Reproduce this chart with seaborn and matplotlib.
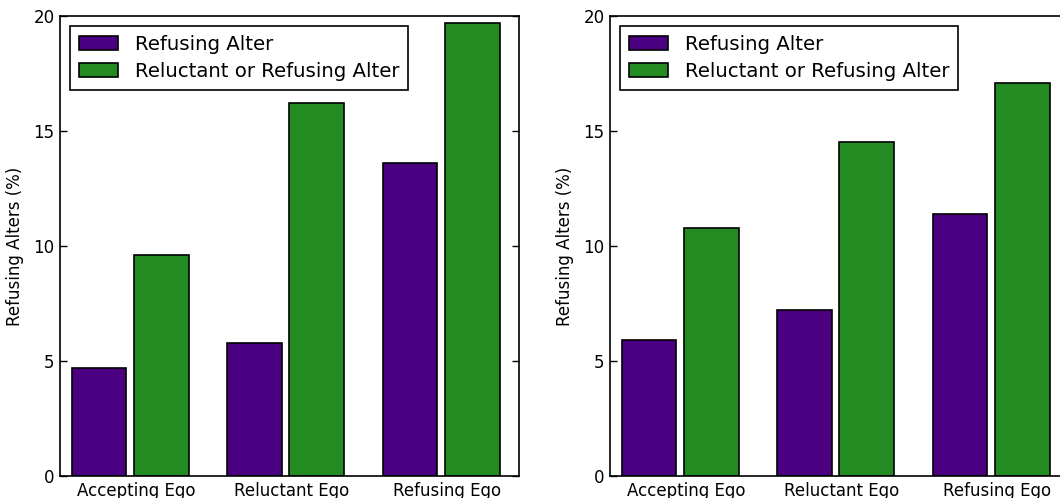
import numpy as np
import pandas as pd
import seaborn as sns
from matplotlib import pyplot as plt

sns.set_style("white")
plt.rcParams['font.family'] = ['DejaVu Sans']
plt.rcParams['text.color'] = 'black'
plt.rcParams['axes.labelcolor'] = 'black'
plt.rcParams['xtick.color'] = 'black'
plt.rcParams['ytick.color'] = 'black'

# data
ego_groups = ['Accepting Ego', 'Reluctant Ego', 'Refusing Ego']
series = ['Refusing Alter', 'Reluctant or Refusing Alter']
left_refusing = [4.7, 5.8, 13.6]
left_reluct_or_ref = [9.6, 16.2, 19.7]
right_refusing = [5.9, 7.2, 11.4]
right_reluct_or_ref = [10.8, 14.5, 17.1]

colors = ['#4B0082', '#228B22']


def make_df(refusing, reluct):
    return pd.DataFrame({
        'ego': ego_groups * 2,
        'alter': [series[0]] * 3 + [series[1]] * 3,
        'pct': list(refusing) + list(reluct),
    })


fig = plt.figure(figsize=(10.6, 4.98), dpi=100)
W, H = 1060, 498
ax1 = fig.add_axes([60 / W, 22 / H, 459 / W, 460 / H])
ax2 = fig.add_axes([610 / W, 22 / H, 459 / W, 460 / H])

panels = [(ax1, left_refusing, left_reluct_or_ref),
          (ax2, right_refusing, right_reluct_or_ref)]

for ax, refusing, reluct in panels:
    df = make_df(refusing, reluct)
    sns.barplot(data=df, x='ego', y='pct', hue='alter', order=ego_groups,
                hue_order=series, palette=colors, width=0.8, gap=0.12,
                edgecolor='black', linewidth=1.2, saturation=1, ax=ax)
    ax.set_xlim(-0.45, 2.5)
    ax.set_ylim(0, 20)
    ax.set_yticks([0, 5, 10, 15, 20])
    ax.set_xticks(np.arange(3) + 0.04)
    ax.set_xticklabels(ego_groups, fontsize=12)
    ax.tick_params(axis='x', length=0, pad=4)
    ax.tick_params(axis='y', direction='in', length=5, width=1, labelsize=12,
                   left=True, right=True, color='black', pad=4)
    ax.set_xlabel('')
    ax.set_ylabel('Refusing Alters (%)', fontsize=12, labelpad=7)
    for sp in ax.spines.values():
        sp.set_visible(True)
        sp.set_color('black')
        sp.set_linewidth(1.2)
    leg = ax.legend(loc='upper left', fontsize=14.2, frameon=True,
                    fancybox=False, edgecolor='black', framealpha=1,
                    borderpad=0.45, handlelength=2.0, handletextpad=0.85,
                    labelspacing=0.4, borderaxespad=0.5)
    leg.get_frame().set_linewidth(1.2)

fig.savefig('out.png', dpi=100)
